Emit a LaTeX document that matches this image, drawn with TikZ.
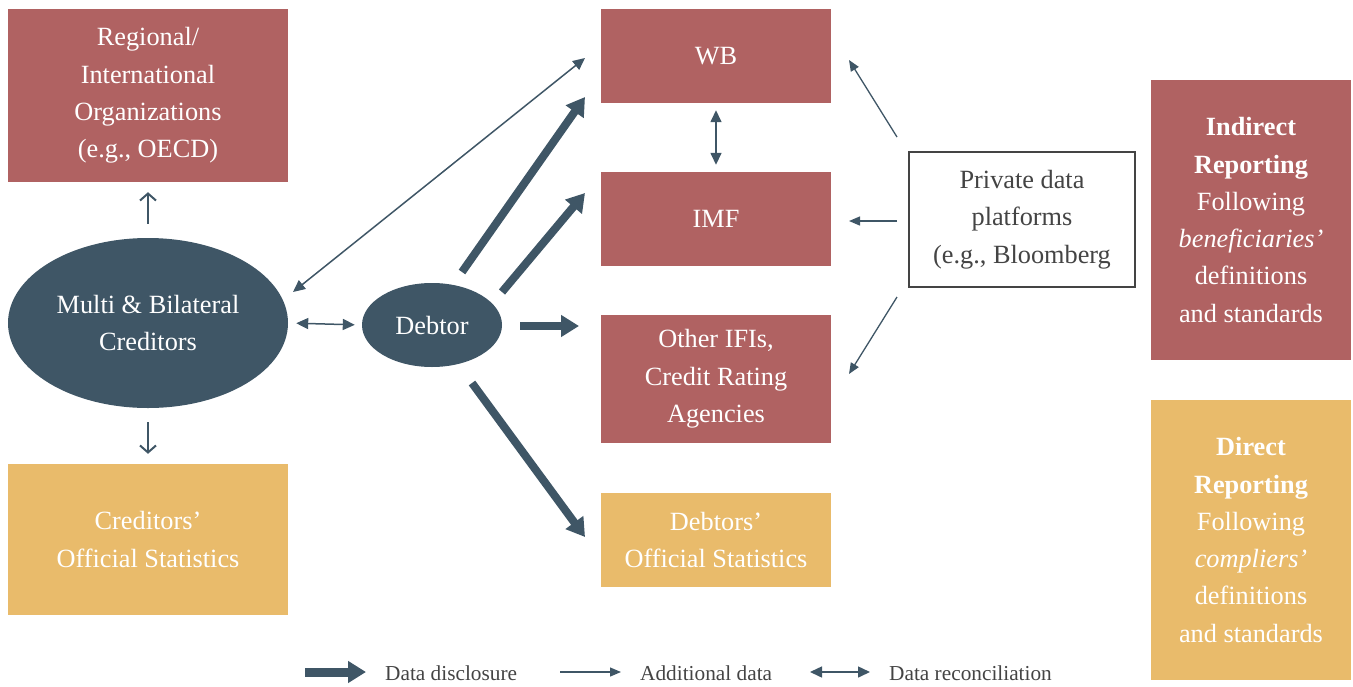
\documentclass[tikz,border=0pt]{standalone}
\usepackage{fontspec}
\setmainfont{Liberation Serif}
\usetikzlibrary{arrows.meta,shapes.geometric}
\definecolor{cred}{HTML}{B06262}
\definecolor{cgold}{HTML}{E9BB6B}
\definecolor{cslate}{HTML}{3F5666}
\definecolor{ctext}{HTML}{444444}
\begin{document}
\begin{tikzpicture}[x=1pt,y=-1pt,
  txt/.style={inner sep=0pt, align=center, font=\fontsize{26.3}{37.3}\selectfont},
  redbox/.style={txt, fill=cred, text=white},
  goldbox/.style={txt, fill=cgold, text=white},
  slateell/.style={txt, ellipse, fill=cslate, text=white},
  privbox/.style={txt, draw=ctext, line width=1.2pt, fill=white, text=ctext},
  thick arrow/.style={draw=cslate, line width=8pt, -{Triangle[length=18pt,width=21pt]}},
  thin arrow/.style={draw=cslate, line width=1.3pt, -{Triangle[length=11pt,width=9pt]}},
  dbl arrow/.style={draw=cslate, line width=1.5pt, {Triangle[length=12pt,width=11pt]}-{Triangle[length=12pt,width=11pt]}},
  barb arrow/.style={draw=cslate, line width=2pt, -{Straight Barb[length=7pt,width=16pt]}},
  legtxt/.style={inner sep=0pt, anchor=west, text=ctext, font=\fontsize{21.3}{25}\selectfont}
]
\useasboundingbox (0,0) rectangle (1353,686);

% left column
\node[redbox, minimum width=280pt, minimum height=173pt] (reg) at (148,95.5)
  {Regional/\\International\\Organizations\\(e.g., OECD)};
\node[slateell, minimum width=280pt, minimum height=170pt] (multi) at (148,323)
  {Multi \& Bilateral\\Creditors};
\node[goldbox, minimum width=280pt, minimum height=151pt] (cstat) at (148,539.5)
  {Creditors’\\Official Statistics};

% debtor
\node[slateell, minimum width=140pt, minimum height=84pt] (debtor) at (432,325) {Debtor};

% middle column
\node[redbox, minimum width=230pt, minimum height=94pt] (wb) at (716,56) {WB};
\node[redbox, minimum width=230pt, minimum height=94pt] (imf) at (716,219) {IMF};
\node[redbox, minimum width=230pt, minimum height=128pt] (ifi) at (716,379)
  {Other IFIs,\\Credit Rating\\Agencies};
\node[goldbox, minimum width=230pt, minimum height=94pt] (dstat) at (716,540)
  {Debtors’\\Official Statistics};

% private
\node[privbox, minimum width=226pt, minimum height=135pt] (priv) at (1022,219.5)
  {Private data\\platforms\\(e.g., Bloomberg};

% right column
\node[redbox, minimum width=200pt, minimum height=280pt] (ind) at (1251,220)
  {\textbf{Indirect}\\\textbf{Reporting}\\Following\\\textit{beneficiaries’}\\definitions\\and standards};
\node[goldbox, minimum width=200pt, minimum height=280pt] (dir) at (1251,540)
  {\textbf{Direct}\\\textbf{Reporting}\\Following\\\textit{compliers’}\\definitions\\and standards};

% connector end points
\coordinate (mwb) at (293,292);
\coordinate (wbm) at (585,58);
\coordinate (dwa) at (462,272);
\coordinate (dwb) at (585,97);
\coordinate (dia) at (502,292);
\coordinate (dib) at (585,193);
\coordinate (dfa) at (520,326);
\coordinate (dfb) at (579,326);
\coordinate (dsa) at (472,383);
\coordinate (dsb) at (585,537);
\coordinate (pwa) at (897,137);
\coordinate (pwb) at (849,60);
\coordinate (pia) at (897,221);
\coordinate (pib) at (849,221);
\coordinate (pfa) at (897,297);
\coordinate (pfb) at (849,374);

% connectors
\draw[barb arrow, shorten <=14pt, shorten >=10pt] (multi.north) -- (reg.south);
\draw[barb arrow, shorten <=14pt, shorten >=10pt] (multi.south) -- (cstat.north);
\draw[dbl arrow, shorten <=8pt, shorten >=7pt] (multi.east) -- (debtor.west);
\draw[dbl arrow, shorten <=7pt, shorten >=7pt] (wb.south) -- (imf.north);
\draw[dbl arrow] (mwb) -- (wbm);
\draw[thick arrow] (dwa) -- (dwb);
\draw[thick arrow] (dia) -- (dib);
\draw[thick arrow] (dfa) -- (dfb);
\draw[thick arrow] (dsa) -- (dsb);
\draw[thin arrow] (pwa) -- (pwb);
\draw[thin arrow] (pia) -- (pib);
\draw[thin arrow] (pfa) -- (pfb);

% legend
\coordinate (l1a) at (305,672);
\coordinate (l1b) at (366,672);
\coordinate (l2a) at (560,672);
\coordinate (l2b) at (621,672);
\coordinate (l3a) at (810,672);
\coordinate (l3b) at (870,672);
\draw[thick arrow, line width=9pt] (l1a) -- (l1b);
\node[legtxt] (leg1) at (385,673) {Data disclosure};
\draw[thin arrow] (l2a) -- (l2b);
\node[legtxt] (leg2) at (640,673) {Additional data};
\draw[dbl arrow] (l3a) -- (l3b);
\node[legtxt] (leg3) at (889,673) {Data reconciliation};
\end{tikzpicture}
\end{document}
